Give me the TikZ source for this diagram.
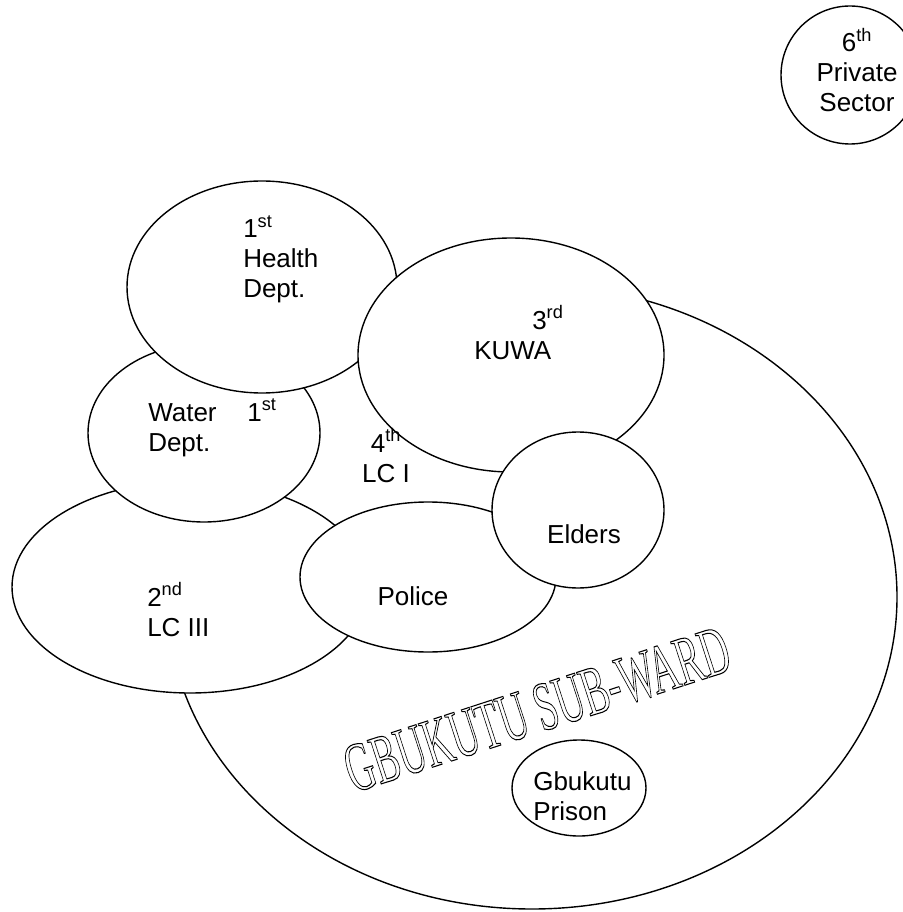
\documentclass[tikz,border=0pt]{standalone}
\usepackage{fontspec}
\setmainfont{Liberation Sans}
\newfontfamily\wardfont{Liberation Serif}
\usetikzlibrary{shapes.geometric}

% outlined (stroked) glyphs
\newcommand{\outlinetext}[1]{\special{pdf:literal direct 1 Tr 0.45 w}#1\special{pdf:literal direct 0 Tr}}

\tikzset{
  party/.style={ellipse, draw, fill=white, line width=1.05pt, inner sep=0pt},
  lbl/.style={font=\fontsize{19.5}{22.5}\selectfont, inner sep=0pt, align=left, anchor=base west},
}

\begin{document}
\begin{tikzpicture}[x=0.75pt, y=-0.75pt]
  \useasboundingbox (0,0) rectangle (902,912);

  % the sub-ward and the groups around it
  \node[party, minimum width=547.5pt, minimum height=468pt] (ward) at (532,597) {};
  \node[party, minimum width=100.5pt, minimum height=72pt] (prison) at (579,788) {};
  \node[party, minimum width=267pt, minimum height=159pt] (lc3) at (190,587) {};
  \node[party, minimum width=174pt, minimum height=133.5pt] (water) at (204,433) {};
  \node[party, minimum width=202.5pt, minimum height=159pt] (health) at (262,287) {};
  \node[party, minimum width=229.5pt, minimum height=175.5pt] (kuwa) at (511,355) {};
  \node[party, minimum width=192pt, minimum height=112.5pt] (police) at (428,577) {};
  \node[party, minimum width=129pt, minimum height=117pt] (elders) at (578,510) {};
  \node[party, circle, minimum size=103.5pt] (private) at (850,75) {};

  % labels (anchored on the last line)
  \node[lbl] (healthtxt) at (243,298) {1\textsuperscript{st}\\Health\\Dept.};
  \node[lbl] (kuwatxt) at (474,359) {\hspace*{43.5pt}3\textsuperscript{rd}\\KUWA};
  \node[lbl] (watertxt) at (148,451) {Water\hspace{23pt}1\textsuperscript{st}\\Dept.};
  \node[lbl, align=center, anchor=base] (lc1txt) at (386,482) {4\textsuperscript{th}\\LC I};
  \node[lbl] (lc3txt) at (147,636) {2\textsuperscript{nd}\\LC III};
  \node[lbl, anchor=base] (policetxt) at (413,605) {Police};
  \node[lbl, anchor=base] (elderstxt) at (584,543) {Elders};
  \node[lbl] (prisontxt) at (533,820) {Gbukutu\\Prison};
  \node[lbl, align=center, anchor=base] (privatetxt) at (857,112) {6\textsuperscript{th}\\Private\\Sector};

  \node[rotate=18, anchor=base, inner sep=0pt] (wardtxt) at (544,731)
    {\scalebox{1}[1.8]{\wardfont\fontsize{29}{29}\selectfont\outlinetext{GBUKUTU SUB-WARD}}};
\end{tikzpicture}
\end{document}
